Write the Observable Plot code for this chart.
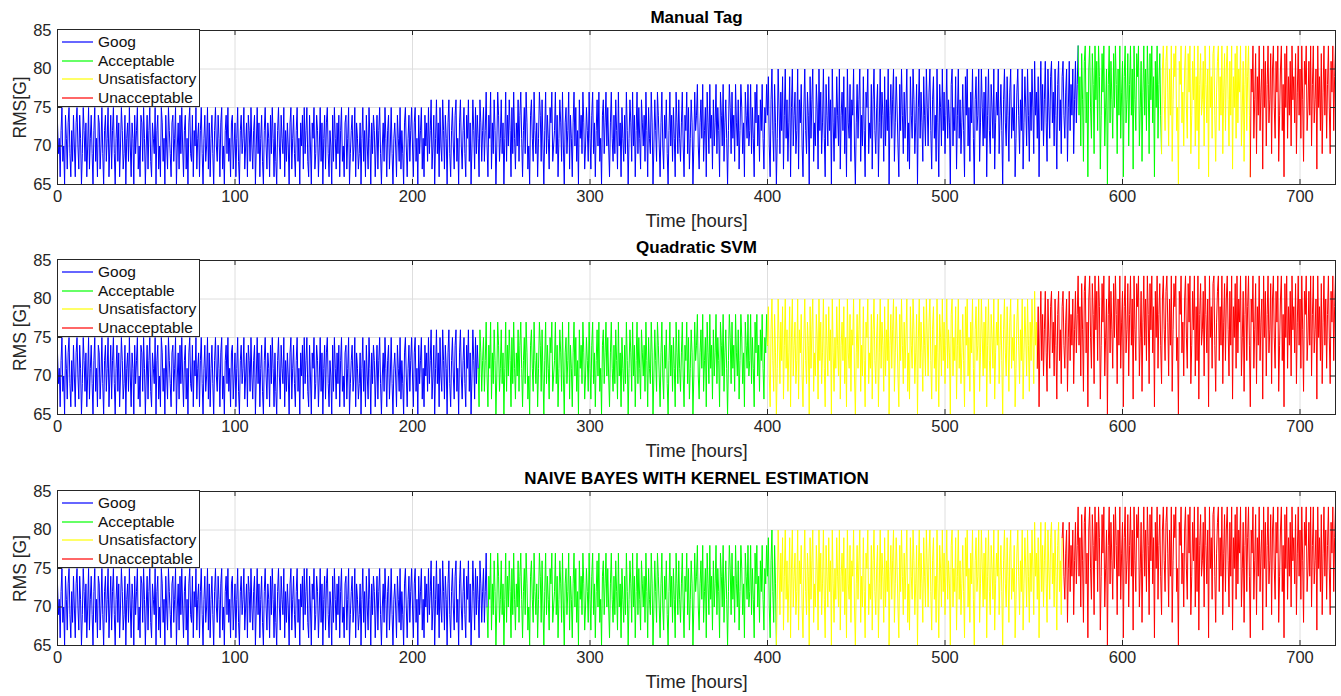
<!DOCTYPE html>
<html>
<head>
<meta charset="utf-8">
<script src="https://cdn.jsdelivr.net/npm/d3@7"></script>
<script src="https://cdn.jsdelivr.net/npm/@observablehq/plot@0.6"></script>
<style>
  html, body { margin: 0; padding: 0; background: #fff; }
  #wrap { position: relative; width: 1341px; height: 696px; font-family: "Liberation Sans", Arial, sans-serif; }
  .panel { position: absolute; left: 0; }
  .legend { position: absolute; left: 57px; width: 141px; height: 76px; border: 1px solid #262626; background: #fff; }
  .legend .row { position: absolute; left: 0; height: 18px; display: flex; align-items: center; font-size: 15.5px; color: #111; white-space: nowrap; }
  .legend svg { margin-left: 4px; margin-right: 5px; }
</style>
</head>
<body>
<div id="wrap"></div>
<script>
// ---- data: RMS [G] every half hour ----
const rmsH000 = [
73,69,71,66,72,75,68,70,65,74,71,67,73,75,69,66,72,68,74,70,
66,73,75,70,67,74,71,65,69,75,72,68,73,66,70,75,67,71,74,69,
65,72,75,68,71,66,74,73,67,70,75,69,65,72,74,68,71,75,66,70,
74,67,72,75,69,65,71,74,68,73,66,70,75,72,67,69,74,65,71,73,
68,75,70,66,73,71,65,74,69,72,75,67,70,66,74,73,68,75,71,65,
70,74,67,72,75,68,66,73,71,69,75,65,72,74,67,70,66,75,73,68,
71,65,74,70,67,75,72,69,66,73,74,68,71,75,65,70,73,67,74,69,
75,70,66,72,74,67,71,65,73,75,69,68,74,66,72,70,75,67,71,73,
66,72,75,69,65,71,74,68,70,75,67,73,66,71,74,69,65,72,75,70,
68,74,71,66,73,75,67,70,65,72,74,69,75,68,71,66,73,74,67,70];
const rmsH100 = [
73,66,71,75,68,65,72,74,69,71,75,67,70,73,66,74,72,68,75,70,
67,72,74,65,70,75,69,73,66,71,74,68,65,72,75,70,67,73,71,66,
74,69,75,71,66,73,68,65,72,75,70,67,74,71,69,75,66,72,68,73,
70,65,73,75,67,71,74,69,66,72,75,68,71,65,73,70,74,67,75,69,
72,75,68,66,74,70,65,73,71,75,67,69,74,72,66,70,75,68,73,65,
71,74,67,73,75,69,66,72,70,65,74,68,75,71,67,73,69,74,66,72,
75,68,70,66,73,74,67,71,75,65,69,72,74,68,70,75,66,73,71,67,
69,73,65,71,75,68,72,66,74,70,67,75,71,65,73,69,74,72,66,70,
74,67,72,75,69,65,70,73,68,75,71,66,72,74,67,70,75,69,65,71,
73,70,66,74,71,68,75,67,72,69,65,73,75,70,66,71,74,68,72,75];
const rmsH200 = [
70,66,73,75,68,71,65,74,69,72,75,67,71,66,74,70,73,68,75,69,
72,76,67,70,74,65,71,76,69,73,66,75,70,68,76,72,67,74,71,65,
73,76,69,66,72,75,70,67,74,76,68,71,65,73,76,70,67,72,75,69,
66,74,71,76,68,73,65,70,76,72,67,75,69,74,71,66,76,73,68,72];
const rmsH240 = [
75,68,72,77,70,66,74,71,77,67,73,69,76,72,65,70,77,74,68,71,
76,69,73,65,71,77,68,74,70,76,72,66,75,69,77,71,67,73,70,76,
68,74,77,71,66,72,75,69,77,73,67,70,65,74,76,71,68,77,72,69,
73,66,71,77,74,68,76,70,65,72,77,69,74,71,67,75,73,77,68,70,
72,77,69,74,66,71,76,73,68,77,70,65,73,75,69,72,77,67,74,71,
66,73,77,70,75,68,72,65,76,71,74,69,77,73,67,70,75,72,68,77,
71,67,74,77,69,73,66,72,76,70,77,68,71,65,74,76,69,73,77,70,
75,70,66,73,77,71,68,74,69,76,72,67,77,70,73,66,75,71,68,74,
69,77,72,65,71,76,73,68,77,70,74,66,72,77,69,75,71,67,76,73,
70,74,68,77,72,66,75,71,69,77,73,65,70,76,72,68,77,74,70,66,
73,77,70,67,74,71,76,69,65,72,77,70,74,68,75,71,66,77,73,69,
76,71,68,73,77,70,66,74,72,77,69,75,67,71,76,73,65,70,77,72,
74,78,70,67,73,76,71,78,68,72,75,66,77,73,69,78,71,74,67,76,
70,73,78,69,75,72,66,77,74,70,78,68,73,76,71,65,72,78,75,69,
77,71,74,68,78,73,70,76,67,72,78,75,69,73,66,77,74,71,78,70,
72,78,69,75,71,66,77,73,78,70,74,68,76,72,78,71,67,75,73,78];
const rmsH400 = [
74,79,70,66,76,80,72,68,78,73,65,71,80,75,69,77,72,79,67,74,
80,71,76,68,73,79,66,75,80,70,74,77,69,72,80,67,76,73,78,70,
66,75,80,72,69,77,74,65,79,71,76,80,68,73,70,78,75,67,80,72,
77,69,73,80,71,66,78,74,70,79,72,76,65,80,73,68,75,71,79,74,
70,80,67,74,77,72,79,69,75,66,80,73,71,78,68,76,74,80,70,65,
73,78,71,76,80,68,74,70,79,72,66,77,75,80,69,73,71,78,67,76,
80,72,69,75,78,66,73,80,71,77,74,68,79,70,76,72,80,65,74,78,
71,76,80,68,73,79,75,70,66,78,72,80,74,69,77,71,75,80,68,73,
67,79,74,71,80,76,69,73,78,65,75,80,71,77,73,68,79,74,70,80,
75,70,77,80,72,67,76,79,71,74,68,80,73,66,78,75,70,80,72,77,
69,74,80,71,76,73,65,78,80,70,75,72,79,67,74,80,71,76,69,73,
78,72,66,79,74,80,70,75,68,77,73,80,71,65,76,79,72,74,80,68,
73,80,75,70,77,71,79,66,74,80,72,69,78,75,71,80,67,73,77,74,
80,69,74,78,72,65,76,80,73,70,79,74,68,77,80,71,75,72,78,66,
71,77,80,74,69,76,72,80,67,73,79,75,70,80,74,68,77,72,80,75,
69,81,74,77,71,79,66,75,81,72,78,70,76,81,73,68,80,75,71,79,
81,73,77,70,80,74,67,78,81,72,76,69,79,81,74,71,77,80,68,75,
81,72,78,74,80,69,76,81,73,78];
const rmsH575 = [
83,74,79,70,82,76,68,81,83,73,77,66,80,83,75,71,82,78,69,83,
76,81,72,83,79,67,74,82,77,83,70,75,80,65,78,83,73,81,76,71,
82,75,83,78,69,80,74,83,71,77,81,66,79,83,73,76,82,70,78,83,
74,80,67,83,76,72,82,79,83,70,75,81,68,77,83,74,80,72,83,78,
69,82,76,83,73,79,66,81,75,83,71,78,82,74,69,80,83,76,72,81,
83,77,70,80,74,83,68,76,82,79,83,72,75,65,81,78,83,73,77,70,
80,83,75,71,82,77,83,69,74,81,76,83,70,79,72,83,67,78,82,74,
76,81,70,83,78,73,80,66,83,75,79,71,82,83,74,68,77,81,83,72,
79,74,83,69,77,82,72,80,83,76,70,81,74,83,67,79,75,82,71,83,
73,80,77,83,70,75,81,68,78,83,72,79,83,74,66,80,77,83,71,76,
82,69,79,74,83,72,77,80,67,83,75,81,70,78,83,73,76,82,69,80,
83,75,71,81,77,83,68,74,80,83,72,78,66,82,75,83,71,79,74,81,
70,83,76,79,73,82,69,77,83,74,80,71,83,76,68,81,78,83,72,75,
81,74,83,70,78,83,73,76,80,67,83,75,79,72,82,69,77,83,74,80,
71,78,83,75,69,81,77,83,72,79,83];

const classNames = ["Goog", "Acceptable", "Unsatisfactory", "Unacceptable"];
const classColors = ["#0000ff", "#00ff00", "#ffff00", "#ff0000"];
const manualBreaks = [575, 622, 672];   // hour where the next class starts
const svmBreaks = [237, 400, 552];
const nbBreaks = [242, 405, 566];
const titles = ["Manual Tag", "Quadratic SVM", "NAIVE BAYES WITH KERNEL ESTIMATION"];
const yLabels = ["RMS[G]", "RMS [G]", "RMS [G]"];
const xLabel = "Time [hours]";
const xTicks = [0, 100, 200, 300, 400, 500, 600, 700];
const yTicks = [65, 70, 75, 80, 85];

// ---- build ----
const rms = [...rmsH000, ...rmsH100, ...rmsH200, ...rmsH240, ...rmsH400, ...rmsH575];
const hours = rms.map((_, i) => i / 2);

function segmentRows(breaks) {
  const bounds = [0, ...breaks, 720];
  const rows = [];
  for (let c = 0; c < classNames.length; c++) {
    hours.forEach((t, i) => {
      if (t >= bounds[c] && t <= bounds[c + 1]) rows.push({t, v: rms[i], cls: classNames[c]});
    });
  }
  return rows;
}

const W = 1341, H = 231, mT = 30, mB = 47, mL = 57, mR = 6;
const plotW = W - mL - mR, plotH = H - mT - mB;
const FONT = '"Liberation Sans", Arial, sans-serif';
const panels = [
  {breaks: manualBreaks, top: 0},
  {breaks: svmBreaks, top: 230},
  {breaks: nbBreaks, top: 461}
];

const wrap = document.getElementById("wrap");
panels.forEach((p, k) => {
  const chart = Plot.plot({
    width: W, height: H,
    marginTop: mT, marginBottom: mB, marginLeft: mL, marginRight: mR,
    style: {fontFamily: FONT, fontSize: "16px", color: "#262626", background: "transparent", overflow: "visible"},
    x: {domain: [0, 720]},
    y: {domain: [65, 85]},
    color: {domain: classNames, range: classColors},
    marks: [
      Plot.gridX(xTicks, {stroke: "#dedede", strokeOpacity: 1}),
      Plot.gridY(yTicks, {stroke: "#dedede", strokeOpacity: 1}),
      Plot.line(segmentRows(p.breaks), {x: "t", y: "v", z: "cls", stroke: "cls", strokeWidth: 1, clip: true}),
      Plot.frame({stroke: "#262626", strokeWidth: 1}),
      Plot.tickX(xTicks, {x: d => d, stroke: "#262626", insetBottom: plotH - 5}),
      Plot.tickX(xTicks, {x: d => d, stroke: "#262626", insetTop: plotH - 5}),
      Plot.tickY(yTicks, {y: d => d, stroke: "#262626", insetRight: plotW - 5}),
      Plot.tickY(yTicks, {y: d => d, stroke: "#262626", insetLeft: plotW - 5}),
      Plot.axisX(xTicks, {tickSize: 0, tickPadding: 6, label: null, fontSize: 16.5, fill: "#262626"}),
      Plot.axisY(yTicks, {tickSize: 0, tickPadding: 6, label: null, fontSize: 16.5, fill: "#262626"}),
      Plot.text([titles[k]], {frameAnchor: "top", lineAnchor: "middle", textAnchor: "middle", dy: -13, fontWeight: "bold", fontSize: 17, fill: "#000"}),
      Plot.text([xLabel], {frameAnchor: "bottom", lineAnchor: "middle", textAnchor: "middle", dy: 37, fontSize: 18.5, fill: "#262626"}),
      Plot.text([yLabels[k]], {frameAnchor: "left", lineAnchor: "middle", textAnchor: "middle", rotate: -90, dx: -37, fontSize: 17.5, fill: "#262626"})
    ]
  });
  chart.classList.add("panel");
  chart.style.top = p.top + "px";
  wrap.appendChild(chart);

  // legend box (top-left, inside the frame)
  const lg = document.createElement("div");
  lg.className = "legend";
  lg.style.top = (p.top + mT - 1) + "px";
  classNames.forEach((name, j) => {
    const row = document.createElement("div");
    row.className = "row";
    row.style.top = (3 + j * 18.7) + "px";
    row.innerHTML = `<svg width="31" height="4"><line x1="0" x2="31" y1="2" y2="2" stroke="${classColors[j]}" stroke-width="1.2"/></svg><span>${name}</span>`;
    lg.appendChild(row);
  });
  wrap.appendChild(lg);
});
</script>
</body>
</html>
